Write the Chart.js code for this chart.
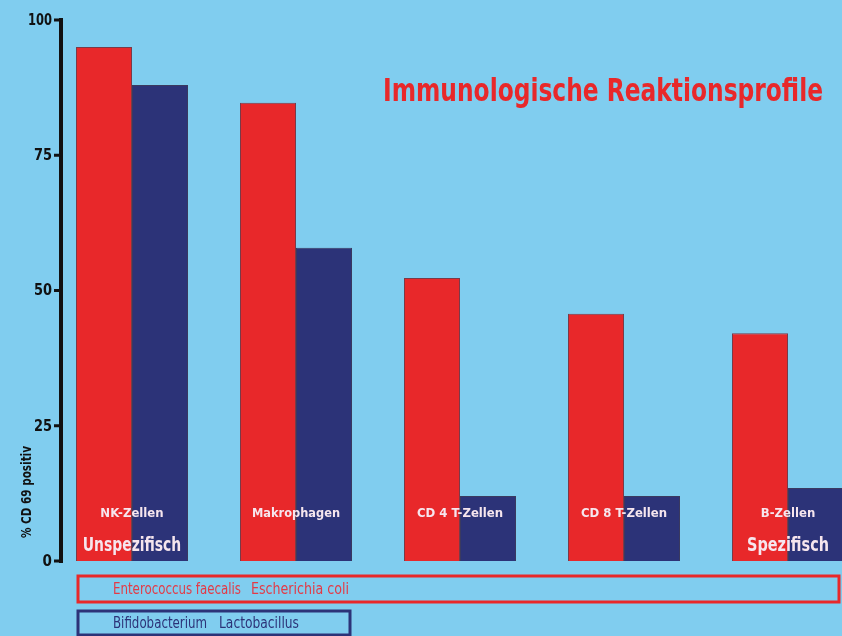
<!DOCTYPE html>
<html>
<head>
<meta charset="utf-8">
<script src="https://cdn.jsdelivr.net/npm/chart.js@4/dist/chart.umd.min.js"></script>
<style>
  html,body{margin:0;padding:0;overflow:hidden;background:#80cdef;}
  #wrap{position:absolute;left:0;top:0;width:900px;height:636px;}
</style>
</head>
<body>
<div id="wrap"><canvas id="chart" width="900" height="636"></canvas></div>
<script>
// ---------------- DATA ----------------
const categories = ["NK-Zellen","Makrophagen","CD 4 T-Zellen","CD 8 T-Zellen","B-Zellen"];
const pathogenValues = [95, 84.7, 52.3, 45.7, 42.1];   // Enterococcus / E. coli
const probioticValues = [88, 57.9, 12, 12, 13.5];     // Bifido / Lacto
const yTicks = [0, 25, 50, 75, 100];
const yTitle = "% CD 69 positiv";
const chartTitle = "Immunologische Reaktionsprofile";
const groupLabels = ["Unspezifisch", "", "", "", "Spezifisch"];
const legendRed = ["Enterococcus faecalis", "Escherichia coli"];
const legendBlue = ["Bifidobacterium", "Lactobacillus"];

const RED = "#e8282a";
const BLUE = "#2c3378";
const FONT = '"Liberation Sans Narrow","DejaVu Sans Condensed","DejaVu Sans",sans-serif';

// draws y axis, labels in bars, title and the two legend boxes
const decor = {
  id:"decor",
  afterDatasetsDraw(c){
    const ctx = c.ctx;
    const x = c.scales.x, y = c.scales.y;
    ctx.save();

    // y axis
    const ax = 61;
    ctx.fillStyle = "#111";
    ctx.fillRect(ax-2, y.getPixelForValue(100)-2, 4, y.getPixelForValue(0)-y.getPixelForValue(100)+4);
    ctx.font = "bold 15px " + FONT;
    ctx.textAlign = "right";
    ctx.textBaseline = "middle";
    yTicks.forEach(t=>{
      const py = y.getPixelForValue(t);
      ctx.fillRect(ax-7, py-1.5, 7, 3);
      ctx.fillText(String(t), ax-9, py+1, t===100 ? 24 : 18);
    });

    // y title
    ctx.save();
    ctx.translate(27, 492);
    ctx.rotate(-Math.PI/2);
    ctx.textAlign = "center";
    ctx.font = "bold 14px " + FONT;
    ctx.fillText(yTitle, 0, 0, 92);
    ctx.restore();

    // category labels inside bars
    ctx.fillStyle = "#f6e6ee";
    ctx.textAlign = "center";
    categories.forEach((cat,i)=>{
      const px = x.getPixelForValue(i);
      ctx.font = "bold 13px " + FONT;
      ctx.fillText(cat, px, 514, 88);
      if(groupLabels[i]){
        ctx.font = "bold 20px " + FONT;
        ctx.fillText(groupLabels[i], px, 546, groupLabels[i].length*8.2);
      }
    });

    // title
    ctx.fillStyle = RED;
    ctx.font = "bold 32px " + FONT;
    ctx.textAlign = "left";
    ctx.fillText(chartTitle, 383, 93, 440);

    // legend boxes
    ctx.lineWidth = 3;
    ctx.strokeStyle = RED;
    ctx.strokeRect(78, 576, 761, 26);
    ctx.strokeStyle = BLUE;
    ctx.strokeRect(78, 611, 272, 24);

    ctx.font = "16px " + FONT;
    ctx.fillStyle = "#e33a46";
    ctx.fillText(legendRed[0], 113, 590, 128);
    ctx.fillText(legendRed[1], 251, 590, 98);
    ctx.fillStyle = BLUE;
    ctx.fillText(legendBlue[0], 113, 624, 94);
    ctx.fillText(legendBlue[1], 219, 624, 80);

    ctx.restore();
  }
};

new Chart(document.getElementById("chart"),{
  type:"bar",
  data:{
    labels:categories,
    datasets:[
      {label:legendRed.join(" "), data:pathogenValues, backgroundColor:RED,
       borderColor:"#7a3a48", borderWidth:1, categoryPercentage:0.683, barPercentage:1},
      {label:legendBlue.join(" "), data:probioticValues, backgroundColor:BLUE,
       borderColor:"#3a3a60", borderWidth:1, categoryPercentage:0.683, barPercentage:1}
    ]
  },
  options:{
    responsive:false,
    animation:false,
    layout:{padding:{left:50, right:30, top:20, bottom:75}},
    plugins:{legend:{display:false}, tooltip:{enabled:false}},
    scales:{
      x:{display:false, offset:true},
      y:{display:false, min:0, max:100}
    }
  },
  plugins:[decor]
});
</script>
</body>
</html>
